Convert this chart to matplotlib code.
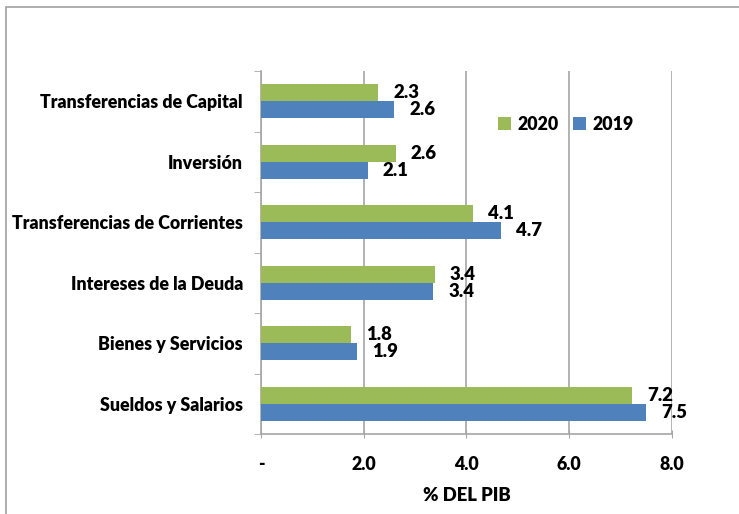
import matplotlib.pyplot as plt
import numpy as np
from matplotlib.patches import Rectangle

categories = ['Transferencias de Capital', 'Inversión', 'Transferencias de Corrientes',
              'Intereses de la Deuda', 'Bienes y Servicios', 'Sueldos y Salarios']
vals_2020 = [2.28, 2.62, 4.13, 3.38, 1.76, 7.22]
vals_2019 = [2.59, 2.08, 4.67, 3.35, 1.87, 7.49]
xticks = [0, 2, 4, 6, 8]
xtick_labels = ['-', '2.0', '4.0', '6.0', '8.0']

green = '#9BBB59'
blue = '#4F81BD'
grid_c = '#A6A6A6'

plt.rcParams['font.family'] = ['Lato', 'DejaVu Sans']
plt.rcParams['font.weight'] = 'bold'
fs = 12.8

fig = plt.figure(figsize=(7.39, 5.14), dpi=100)
W, H = 739, 514
ax = fig.add_axes([261 / W, 1 - 434 / H, (672 - 261) / W, (434 - 71) / H])

# outer chart border (only top/left visible in the crop)
fig.patches.append(Rectangle((6 / W, -0.1), 1.2, 1 - 7 / H + 0.1, transform=fig.transFigure,
                             fill=False, edgecolor='#A0A0A0', linewidth=1.2))

n = len(categories)
y = np.arange(n)[::-1].astype(float)
h = 0.28
b20 = ax.barh(y + h / 2, vals_2020, height=h, color=green, label='2020', zorder=3)
b19 = ax.barh(y - h / 2, vals_2019, height=h, color=blue, label='2019', zorder=3)

for bars, vals in ((b20, vals_2020), (b19, vals_2019)):
    for bar, v in zip(bars, vals):
        ax.annotate(f'{v:.1f}', (v, bar.get_y() + bar.get_height() / 2),
                    xytext=(15, 0), textcoords='offset pixels',
                    va='center', ha='left', fontsize=fs + 0.5, fontweight='heavy')

ax.set_xlim(0, 8)
ax.set_ylim(-0.5, n - 0.5)
ax.set_xticks(xticks)
ax.set_xticklabels(xtick_labels, fontsize=fs, fontweight='heavy')
ax.set_yticks(y)
ax.set_yticklabels(categories, fontsize=fs, fontweight='heavy')
ax.set_yticks(np.arange(-0.5, n, 1.0), minor=True)
ax.tick_params(axis='y', which='major', length=0, pad=13)
ax.tick_params(axis='y', which='minor', length=5, color=grid_c, direction='out')
ax.tick_params(axis='x', length=6, color=grid_c, direction='inout', pad=13)
ax.xaxis.grid(True, color=grid_c, linewidth=1.2, zorder=0)
for s in ('top', 'right'):
    ax.spines[s].set_visible(False)
for s in ('left', 'bottom'):
    ax.spines[s].set_color(grid_c)
    ax.spines[s].set_linewidth(1.2)

ax.set_xlabel('% DEL PIB', fontsize=fs + 0.5, fontweight='heavy', labelpad=10)

ax.legend(handles=[b20, b19], ncol=2, frameon=False, loc='center',
          bbox_to_anchor=(566 / W, 1 - 124 / H), bbox_transform=fig.transFigure,
          prop={'size': fs, 'weight': 'heavy'}, handlelength=0.7, handleheight=0.7,
          columnspacing=0.8, handletextpad=0.4)

fig.savefig('out.png', dpi=100)
